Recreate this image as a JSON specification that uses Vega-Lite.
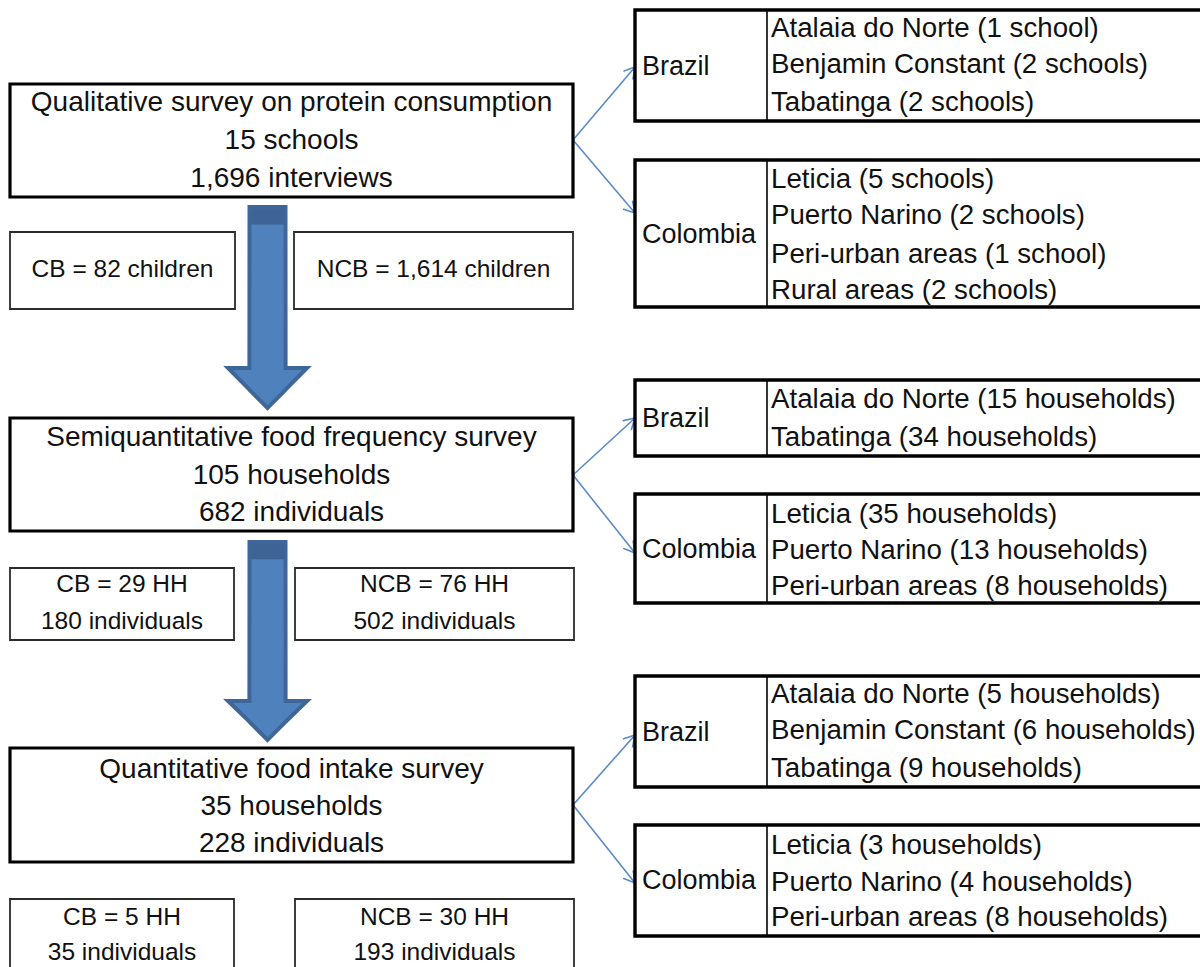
{
  "$schema": "https://vega.github.io/schema/vega-lite/v6.json",
  "width": 1200,
  "height": 967,
  "autosize": {"type": "fit", "contains": "padding"},
  "padding": 0,
  "background": "white",
  "config": {"view": {"stroke": null}},
  "datasets": {
    "bigArrows": [
      {"arrow": "a1", "x": 228, "y": 368, "y2": 368},
      {"arrow": "a1", "x": 249.4, "y": 368, "y2": 389.7},
      {"arrow": "a1", "x": 249.5, "y": 207, "y2": 389.8},
      {"arrow": "a1", "x": 267.5, "y": 207, "y2": 408},
      {"arrow": "a1", "x": 285.5, "y": 207, "y2": 389.8},
      {"arrow": "a1", "x": 285.6, "y": 368, "y2": 389.7},
      {"arrow": "a1", "x": 307, "y": 368, "y2": 368},
      {"arrow": "a2", "x": 228, "y": 701, "y2": 701},
      {"arrow": "a2", "x": 249.4, "y": 701, "y2": 721.7},
      {"arrow": "a2", "x": 249.5, "y": 542, "y2": 721.8},
      {"arrow": "a2", "x": 267.5, "y": 542, "y2": 740},
      {"arrow": "a2", "x": 285.5, "y": 542, "y2": 721.8},
      {"arrow": "a2", "x": 285.6, "y": 701, "y2": 721.7},
      {"arrow": "a2", "x": 307, "y": 701, "y2": 701}
    ],
    "thinArrows": [
      {"x": 573, "y": 140, "x2": 635, "y2": 67},
      {"x": 635, "y": 67, "x2": 624, "y2": 71},
      {"x": 635, "y": 67, "x2": 633, "y2": 79},
      {"x": 573, "y": 140, "x2": 635, "y2": 213},
      {"x": 635, "y": 213, "x2": 632.6, "y2": 201.2},
      {"x": 635, "y": 213, "x2": 623.6, "y2": 209.2},
      {"x": 573, "y": 475, "x2": 635, "y2": 418},
      {"x": 635, "y": 418, "x2": 623.3, "y2": 420.6},
      {"x": 635, "y": 418, "x2": 631.4, "y2": 429.4},
      {"x": 573, "y": 475, "x2": 635, "y2": 553},
      {"x": 635, "y": 553, "x2": 633.2, "y2": 541.1},
      {"x": 635, "y": 553, "x2": 623.8, "y2": 548.6},
      {"x": 573, "y": 805, "x2": 635, "y2": 735},
      {"x": 635, "y": 735, "x2": 632.6, "y2": 746.8},
      {"x": 635, "y": 735, "x2": 623.6, "y2": 738.8},
      {"x": 573, "y": 805, "x2": 635, "y2": 883},
      {"x": 635, "y": 883, "x2": 633.2, "y2": 871.1},
      {"x": 635, "y": 883, "x2": 623.8, "y2": 878.6}
    ],
    "mainBoxes": [
      {"box": "Qualitative", "x": 10, "x2": 573, "y": 84, "y2": 197},
      {"box": "Semiquantitative", "x": 10, "x2": 573, "y": 418, "y2": 531},
      {"box": "Quantitative", "x": 10, "x2": 573, "y": 748, "y2": 862}
    ],
    "subBoxes": [
      {"box": "CB1", "x": 10, "x2": 235, "y": 232, "y2": 309},
      {"box": "NCB1", "x": 294, "x2": 573, "y": 232, "y2": 309},
      {"box": "CB2", "x": 10, "x2": 234, "y": 568, "y2": 640},
      {"box": "NCB2", "x": 295, "x2": 574, "y": 568, "y2": 640},
      {"box": "CB3", "x": 10, "x2": 234, "y": 899, "y2": 980},
      {"box": "NCB3", "x": 295, "x2": 574, "y": 899, "y2": 980}
    ],
    "regionBoxes": [
      {"box": "Brazil1", "x": 635, "x2": 1215, "y": 10, "y2": 121},
      {"box": "Colombia1", "x": 635, "x2": 1215, "y": 160, "y2": 307},
      {"box": "Brazil2", "x": 635, "x2": 1215, "y": 380, "y2": 456},
      {"box": "Colombia2", "x": 635, "x2": 1215, "y": 494, "y2": 603},
      {"box": "Brazil3", "x": 635, "x2": 1215, "y": 676, "y2": 787},
      {"box": "Colombia3", "x": 635, "x2": 1215, "y": 825, "y2": 936}
    ],
    "dividers": [
      {"x": 767, "y": 10, "y2": 121},
      {"x": 767, "y": 160, "y2": 307},
      {"x": 767, "y": 380, "y2": 456},
      {"x": 767, "y": 494, "y2": 603},
      {"x": 767, "y": 676, "y2": 787},
      {"x": 767, "y": 825, "y2": 936}
    ],
    "mainText": [
      {"x": 291.5, "y": 103, "text": "Qualitative survey on protein consumption"},
      {"x": 291.5, "y": 141, "text": "15 schools"},
      {"x": 291.5, "y": 179, "text": "1,696 interviews"},
      {"x": 291.5, "y": 438, "text": "Semiquantitative food frequency survey"},
      {"x": 291.5, "y": 476, "text": "105 households"},
      {"x": 291.5, "y": 513, "text": "682 individuals"},
      {"x": 291.5, "y": 770, "text": "Quantitative food intake survey"},
      {"x": 291.5, "y": 807, "text": "35 households"},
      {"x": 291.5, "y": 844, "text": "228 individuals"}
    ],
    "subText": [
      {"x": 122.5, "y": 270, "text": "CB = 82 children"},
      {"x": 433.5, "y": 270, "text": "NCB = 1,614 children"},
      {"x": 122, "y": 585, "text": "CB = 29 HH"},
      {"x": 122, "y": 622, "text": "180 individuals"},
      {"x": 434.5, "y": 585, "text": "NCB = 76 HH"},
      {"x": 434.5, "y": 622, "text": "502 individuals"},
      {"x": 122, "y": 918, "text": "CB = 5 HH"},
      {"x": 122, "y": 953, "text": "35 individuals"},
      {"x": 434.5, "y": 918, "text": "NCB = 30 HH"},
      {"x": 434.5, "y": 953, "text": "193 individuals"}
    ],
    "countryText": [
      {"x": 642, "y": 67, "text": "Brazil"},
      {"x": 642, "y": 235, "text": "Colombia"},
      {"x": 642, "y": 419, "text": "Brazil"},
      {"x": 642, "y": 550, "text": "Colombia"},
      {"x": 642, "y": 733, "text": "Brazil"},
      {"x": 642, "y": 881, "text": "Colombia"}
    ],
    "itemText": [
      {"x": 771, "y": 29, "text": "Atalaia do Norte (1 school)"},
      {"x": 771, "y": 65, "text": "Benjamin Constant (2 schools)"},
      {"x": 771, "y": 103, "text": "Tabatinga (2 schools)"},
      {"x": 771, "y": 180, "text": "Leticia (5 schools)"},
      {"x": 771, "y": 216, "text": "Puerto Narino (2 schools)"},
      {"x": 771, "y": 255, "text": "Peri-urban areas (1 school)"},
      {"x": 771, "y": 291, "text": "Rural areas (2 schools)"},
      {"x": 771, "y": 400, "text": "Atalaia do Norte (15 households)"},
      {"x": 771, "y": 438, "text": "Tabatinga (34 households)"},
      {"x": 771, "y": 515, "text": "Leticia (35 households)"},
      {"x": 771, "y": 551, "text": "Puerto Narino (13 households)"},
      {"x": 771, "y": 587, "text": "Peri-urban areas (8 households)"},
      {"x": 771, "y": 695, "text": "Atalaia do Norte (5 households)"},
      {"x": 771, "y": 731, "text": "Benjamin Constant (6 households)"},
      {"x": 771, "y": 769, "text": "Tabatinga (9 households)"},
      {"x": 771, "y": 846, "text": "Leticia (3 households)"},
      {"x": 771, "y": 883, "text": "Puerto Narino (4 households)"},
      {"x": 771, "y": 918, "text": "Peri-urban areas (8 households)"}
    ]
  },
  "layer": [
    {
      "data": {"name": "bigArrows"},
      "mark": {
        "type": "area",
        "orient": "vertical",
        "fill": {"gradient": "linear", "x1": 0, "y1": 0, "x2": 0, "y2": 1,
          "stops": [
            {"offset": 0, "color": "#3E6495"},
            {"offset": 0.085, "color": "#3E6495"},
            {"offset": 0.09, "color": "#4F81BD"},
            {"offset": 1, "color": "#4F81BD"}
          ]},
        "fillOpacity": 1,
        "stroke": "#3F6698",
        "strokeWidth": 4,
        "strokeJoin": "miter",
        "line": false
      },
      "encoding": {
        "x": {"field": "x", "type": "quantitative", "scale": {"domain": [0, 1200], "nice": false, "zero": false}, "axis": null},
        "y": {"field": "y", "type": "quantitative", "scale": {"domain": [0, 967], "nice": false, "zero": false, "reverse": true}, "axis": null, "stack": null},
        "y2": {"field": "y2"},
        "detail": {"field": "arrow"}
      }
    },
    {
      "data": {"name": "thinArrows"},
      "mark": {"type": "rule", "color": "#5B8BC7", "strokeWidth": 1.6, "strokeCap": "round"},
      "encoding": {
        "x": {"field": "x", "type": "quantitative", "scale": {"domain": [0, 1200], "nice": false, "zero": false}, "axis": null},
        "y": {"field": "y", "type": "quantitative", "scale": {"domain": [0, 967], "nice": false, "zero": false, "reverse": true}, "axis": null},
        "x2": {"field": "x2"},
        "y2": {"field": "y2"}
      }
    },
    {
      "data": {"name": "mainBoxes"},
      "mark": {"type": "rect", "fill": "white", "stroke": "black", "strokeWidth": 3.2},
      "encoding": {
        "x": {"field": "x", "type": "quantitative", "scale": {"domain": [0, 1200], "nice": false, "zero": false}, "axis": null},
        "x2": {"field": "x2"},
        "y": {"field": "y", "type": "quantitative", "scale": {"domain": [0, 967], "nice": false, "zero": false, "reverse": true}, "axis": null},
        "y2": {"field": "y2"}
      }
    },
    {
      "data": {"name": "subBoxes"},
      "mark": {"type": "rect", "fill": "white", "stroke": "#2b2b2b", "strokeWidth": 1.8, "clip": true},
      "encoding": {
        "x": {"field": "x", "type": "quantitative", "scale": {"domain": [0, 1200], "nice": false, "zero": false}, "axis": null},
        "x2": {"field": "x2"},
        "y": {"field": "y", "type": "quantitative", "scale": {"domain": [0, 967], "nice": false, "zero": false, "reverse": true}, "axis": null},
        "y2": {"field": "y2"}
      }
    },
    {
      "data": {"name": "regionBoxes"},
      "mark": {"type": "rect", "fill": "white", "stroke": "black", "strokeWidth": 3.4, "clip": true},
      "encoding": {
        "x": {"field": "x", "type": "quantitative", "scale": {"domain": [0, 1200], "nice": false, "zero": false}, "axis": null},
        "x2": {"field": "x2"},
        "y": {"field": "y", "type": "quantitative", "scale": {"domain": [0, 967], "nice": false, "zero": false, "reverse": true}, "axis": null},
        "y2": {"field": "y2"}
      }
    },
    {
      "data": {"name": "dividers"},
      "mark": {"type": "rule", "color": "black", "strokeWidth": 1.6},
      "encoding": {
        "x": {"field": "x", "type": "quantitative", "scale": {"domain": [0, 1200], "nice": false, "zero": false}, "axis": null},
        "y": {"field": "y", "type": "quantitative", "scale": {"domain": [0, 967], "nice": false, "zero": false, "reverse": true}, "axis": null},
        "y2": {"field": "y2"}
      }
    },
    {
      "data": {"name": "mainText"},
      "mark": {"type": "text", "font": "Liberation Sans", "fontSize": 28, "align": "center", "baseline": "middle", "color": "#111111"},
      "encoding": {
        "x": {"field": "x", "type": "quantitative", "scale": {"domain": [0, 1200], "nice": false, "zero": false}, "axis": null},
        "y": {"field": "y", "type": "quantitative", "scale": {"domain": [0, 967], "nice": false, "zero": false, "reverse": true}, "axis": null},
        "text": {"field": "text"}
      }
    },
    {
      "data": {"name": "subText"},
      "mark": {"type": "text", "font": "Liberation Sans", "fontSize": 24.5, "align": "center", "baseline": "middle", "color": "#111111"},
      "encoding": {
        "x": {"field": "x", "type": "quantitative", "scale": {"domain": [0, 1200], "nice": false, "zero": false}, "axis": null},
        "y": {"field": "y", "type": "quantitative", "scale": {"domain": [0, 967], "nice": false, "zero": false, "reverse": true}, "axis": null},
        "text": {"field": "text"}
      }
    },
    {
      "data": {"name": "countryText"},
      "mark": {"type": "text", "font": "Liberation Sans", "fontSize": 27, "align": "left", "baseline": "middle", "color": "#111111"},
      "encoding": {
        "x": {"field": "x", "type": "quantitative", "scale": {"domain": [0, 1200], "nice": false, "zero": false}, "axis": null},
        "y": {"field": "y", "type": "quantitative", "scale": {"domain": [0, 967], "nice": false, "zero": false, "reverse": true}, "axis": null},
        "text": {"field": "text"}
      }
    },
    {
      "data": {"name": "itemText"},
      "mark": {"type": "text", "font": "Liberation Sans", "fontSize": 27.7, "align": "left", "baseline": "middle", "color": "#111111"},
      "encoding": {
        "x": {"field": "x", "type": "quantitative", "scale": {"domain": [0, 1200], "nice": false, "zero": false}, "axis": null},
        "y": {"field": "y", "type": "quantitative", "scale": {"domain": [0, 967], "nice": false, "zero": false, "reverse": true}, "axis": null},
        "text": {"field": "text"}
      }
    }
  ]
}
